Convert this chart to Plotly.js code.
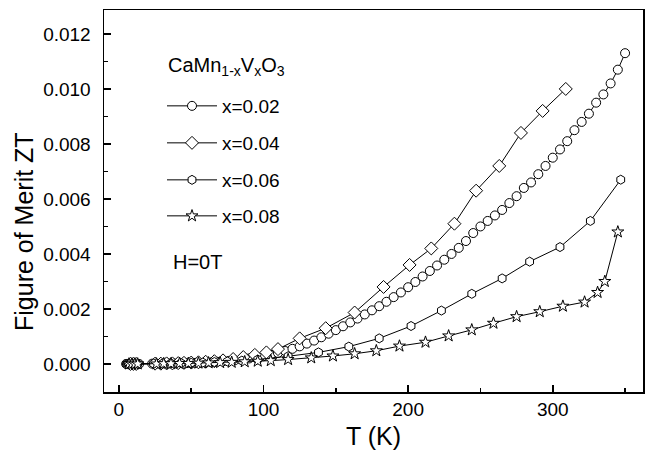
<!DOCTYPE html>
<html>
<head>
<meta charset="utf-8">
<script src="https://cdn.plot.ly/plotly-3.0.1.min.js"></script>
<style>html,body{margin:0;padding:0;background:#fff;}#chart{width:647px;height:453px;}</style>
</head>
<body>
<div id="chart"></div>
<script>
// x = 0.02 (circles)
const T02 = [5,5.5,6,6.5,7,7.5,8,8.5,9,9.5,10,10.5,11,12,13,14,23,26,29,32,35,38,41,44,47,50,53,56,60,64,68,72,76,80,85,90,95,100,105,110,115,120,125,130,135,140,145,150,155,160,165,170,175,180,185,190,195,200,205,210,215,220,225,230,235,240,245,250,255,260,265,270,275,280,285,290,295,300,305,310,315,320,325,330,335,340,345,350];
const ZT02 = [0,0,0,0,0,0,0,0,0,0,0,0,0,0,0,0,0.00001,0.00001,0.00001,0.00001,0.00002,0.00002,0.00002,0.00002,0.00003,0.00003,0.00004,0.00004,0.00005,0.00006,0.00008,0.0001,0.00011,0.00013,0.00016,0.0002,0.00024,0.00028,0.00033,0.0004,0.00047,0.00055,0.00064,0.00074,0.00085,0.00097,0.0011,0.00123,0.00137,0.00151,0.00165,0.0018,0.00195,0.0021,0.00226,0.00243,0.0026,0.00279,0.00298,0.00318,0.00338,0.00358,0.00379,0.004,0.00422,0.00447,0.00476,0.005,0.0052,0.0054,0.0056,0.00585,0.0061,0.0064,0.0066,0.0069,0.0072,0.0075,0.0078,0.0081,0.0085,0.0088,0.0091,0.0095,0.0098,0.0102,0.0107,0.0113];
// x = 0.04 (diamonds)
const T04 = [8,10,12,25,29,33,37,41,45,50,55,60,66,72,79,86,94,102,110,125,143,163,183,201,216,232,247,263,278,293,309];
const ZT04 = [0,0,0,0.00001,0.00001,0.00002,0.00002,0.00003,0.00004,0.00005,0.00006,0.00008,0.0001,0.00013,0.00018,0.00025,0.00033,0.00042,0.00054,0.00093,0.0013,0.00187,0.0028,0.0036,0.0042,0.0051,0.0063,0.0072,0.0084,0.0092,0.0100];
// x = 0.06 (hexagons)
const T06 = [9,11,13,24,30,36,43,50,58,66,75,85,96,117,138,159,180,202,223,244,265,284,305,326,347];
const ZT06 = [0,0,0,0.00001,0.00001,0.00002,0.00003,0.00004,0.00005,0.00007,0.00009,0.00012,0.00016,0.00028,0.00042,0.00063,0.00093,0.00138,0.00194,0.00255,0.00311,0.00372,0.00425,0.0052,0.0067];
// x = 0.08 (stars)
const T08 = [7,9,11,13,26,31,36,42,48,55,62,70,78,87,96,105,117,133,148,163,178,194,212,228,244,259,275,291,307,322,331,336,345];
const ZT08 = [0,0,0,0,0,0.00001,0.00001,0.00002,0.00002,0.00003,0.00004,0.00005,0.00006,0.00008,0.0001,0.00012,0.00016,0.00022,0.00029,0.00037,0.00048,0.00065,0.00079,0.00102,0.00124,0.00148,0.00172,0.0019,0.0021,0.00225,0.0026,0.003,0.0048];

const seriesNames = ["x=0.02","x=0.04","x=0.06","x=0.08"];
const xTickVals = [0,100,200,300];
const yTickVals = [0,0.002,0.004,0.006,0.008,0.010,0.012];
const yTickText = ["0.000","0.002","0.004","0.006","0.008","0.010","0.012"];

const FONT = "Liberation Sans, Arial, sans-serif";
const legendIds = ["legend","legend2","legend3","legend4"];
function tr(i, x, y, symbol, size) {
  return {
    x: x, y: y, name: seriesNames[i], type: "scatter", mode: "lines+markers",
    legend: legendIds[i],
    line: {color: "#000", width: 1},
    marker: {symbol: symbol, size: size, color: "#fff", line: {color: "#000", width: 1}}
  };
}
const data = [
  tr(0, T02, ZT02, "circle", 9),
  tr(1, T04, ZT04, "diamond", 10),
  tr(2, T06, ZT06, "hexagon", 9),
  tr(3, T08, ZT08, "star", 9)
];
const L = 104, R = 643, TOP = 10, BOT = 392;
const px2x = p => (p - L) / (R - L);
const px2y = p => (BOT - p) / (BOT - TOP);
function leg(yc) {
  return {x: px2x(162), y: px2y(yc), xanchor: "left", yanchor: "middle", bgcolor: "rgba(0,0,0,0)",
          itemwidth: 50, font: {family: FONT, size: 19, color: "#000"}};
}
const axBase = {
  showgrid: false, zeroline: false, showline: true, linecolor: "#000", linewidth: 1.5,
  mirror: true, ticks: "inside", tickcolor: "#000", tickwidth: 1.5, ticklen: 7,
  tickfont: {family: FONT, size: 19, color: "#000"}
};
const layout = {
  width: 647, height: 453,
  margin: {l: L, r: 647 - R, t: TOP, b: 453 - BOT},
  paper_bgcolor: "#fff", plot_bgcolor: "#fff",
  font: {family: FONT, color: "#000"},
  showlegend: true,
  legend: leg(106), legend2: leg(143), legend3: leg(180), legend4: leg(216),
  xaxis: Object.assign({}, axBase, {
    range: [-10.3, 362.4], tickvals: xTickVals, ticktext: xTickVals.map(String),
    minor: {dtick: 50, tick0: 0, ticks: "inside", ticklen: 4, tickwidth: 1.5, tickcolor: "#000"},
    title: {text: "T (K)", font: {family: FONT, size: 25, color: "#000"}, standoff: 8}
  }),
  yaxis: Object.assign({}, axBase, {
    range: [-0.00102, 0.01287], tickvals: yTickVals, ticktext: yTickText,
    minor: {dtick: 0.001, tick0: 0, ticks: "inside", ticklen: 4, tickwidth: 1.5, tickcolor: "#000"},
    ticklabelstandoff: 8
  }),
  annotations: [
    {xref: "paper", yref: "paper", x: px2x(24), y: px2y(232), xanchor: "center", yanchor: "middle",
     textangle: -90, showarrow: false, text: "Figure of Merit ZT", font: {family: FONT, size: 25, color: "#000"}},
    {xref: "paper", yref: "paper", x: px2x(166), y: px2y(66), xanchor: "left", yanchor: "middle",
     showarrow: false, text: "CaMn<sub>1-x</sub>V<sub>x</sub>O<sub>3</sub>", font: {family: FONT, size: 20, color: "#000"}},
    {xref: "paper", yref: "paper", x: px2x(171), y: px2y(262), xanchor: "left", yanchor: "middle",
     showarrow: false, text: "H=0T", font: {family: FONT, size: 20, color: "#000"}}
  ]
};
Plotly.newPlot("chart", data, layout, {displayModeBar: false, staticPlot: true});
</script>
</body>
</html>
